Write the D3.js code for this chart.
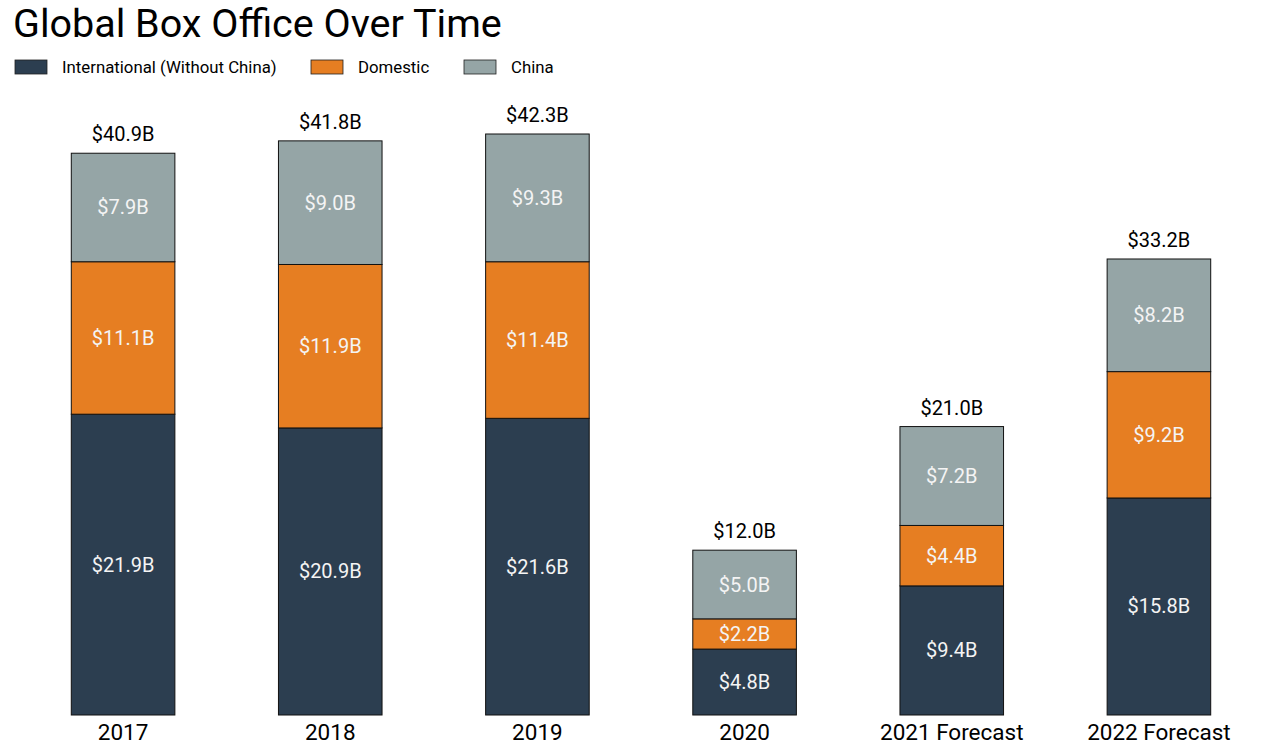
<!DOCTYPE html>
<html><head><meta charset="utf-8">
<script src="https://cdn.jsdelivr.net/npm/d3@7"></script>
<style>body{margin:0;background:#fff;} svg{display:block;font-family:Roboto,sans-serif;}</style>
</head><body>
<svg id="chart" width="1280" height="753"></svg>
<script>
const categories = ["2017","2018","2019","2020","2021 Forecast","2022 Forecast"];
const international = [21.9, 20.9, 21.6, 4.8, 9.4, 15.8];
const domestic = [11.1, 11.9, 11.4, 2.2, 4.4, 9.2];
const china = [7.9, 9.0, 9.3, 5.0, 7.2, 8.2];
const totals = [40.9, 41.8, 42.3, 12.0, 21.0, 33.2];
const seriesNames = ["International (Without China)", "Domestic", "China"];
const colors = ["#2c3e50", "#e67e22", "#95a5a6"];

const svg = d3.select("#chart");
const rows = categories.map((c,i)=>({cat:c, International:international[i], Domestic:domestic[i], China:china[i]}));
const keys = ["International","Domestic","China"];
const stacked = d3.stack().keys(keys)(rows);

const x = d3.scaleBand().domain(categories).range([19.5,1262.5]).paddingInner(0.5).paddingOuter(0.25);
const y = d3.scaleLinear().domain([0,42.3]).range([715,134]);

svg.append("text").attr("x",13).attr("y",37).attr("font-size",39.5).attr("fill","#000").text("Global Box Office Over Time");

const legX = [15, 311, 464];
seriesNames.forEach((n,i)=>{
  svg.append("rect").attr("x",legX[i]).attr("y",60).attr("width",32).attr("height",14)
    .attr("fill",colors[i]).attr("stroke","#222").attr("stroke-width",0.8);
  svg.append("text").attr("x",legX[i]+47).attr("y",73).attr("font-size",16.8).attr("fill","#000").text(n);
});

const g = svg.append("g");
stacked.forEach((s,si)=>{
  g.selectAll(null).data(s).enter().append("rect")
    .attr("x",d=>x(d.data.cat)).attr("width",x.bandwidth())
    .attr("y",d=>y(d[1])).attr("height",d=>y(d[0])-y(d[1]))
    .attr("fill",colors[si]).attr("stroke","#111").attr("stroke-width",1);
  g.selectAll(null).data(s).enter().append("text")
    .attr("x",d=>x(d.data.cat)+x.bandwidth()/2)
    .attr("y",d=>(y(d[0])+y(d[1]))/2)
    .attr("dy","0.35em").attr("text-anchor","middle")
    .attr("font-size",20).attr("fill","#f4f4f4")
    .text(d=>"$"+(d[1]-d[0]).toFixed(1)+"B");
});

g.selectAll(null).data(categories).enter().append("text")
  .attr("x",c=>x(c)+x.bandwidth()/2).attr("y",(c,i)=>y(totals[i])-12)
  .attr("text-anchor","middle").attr("font-size",20).attr("fill","#000")
  .text((c,i)=>"$"+totals[i].toFixed(1)+"B");

const ax = svg.append("g").attr("transform","translate(0,715)").call(d3.axisBottom(x).tickSize(0).tickPadding(9));
ax.select(".domain").remove();
ax.selectAll("text").attr("font-size",22.5).attr("fill","#000").attr("font-family","Roboto,sans-serif");
</script>
</body></html>
